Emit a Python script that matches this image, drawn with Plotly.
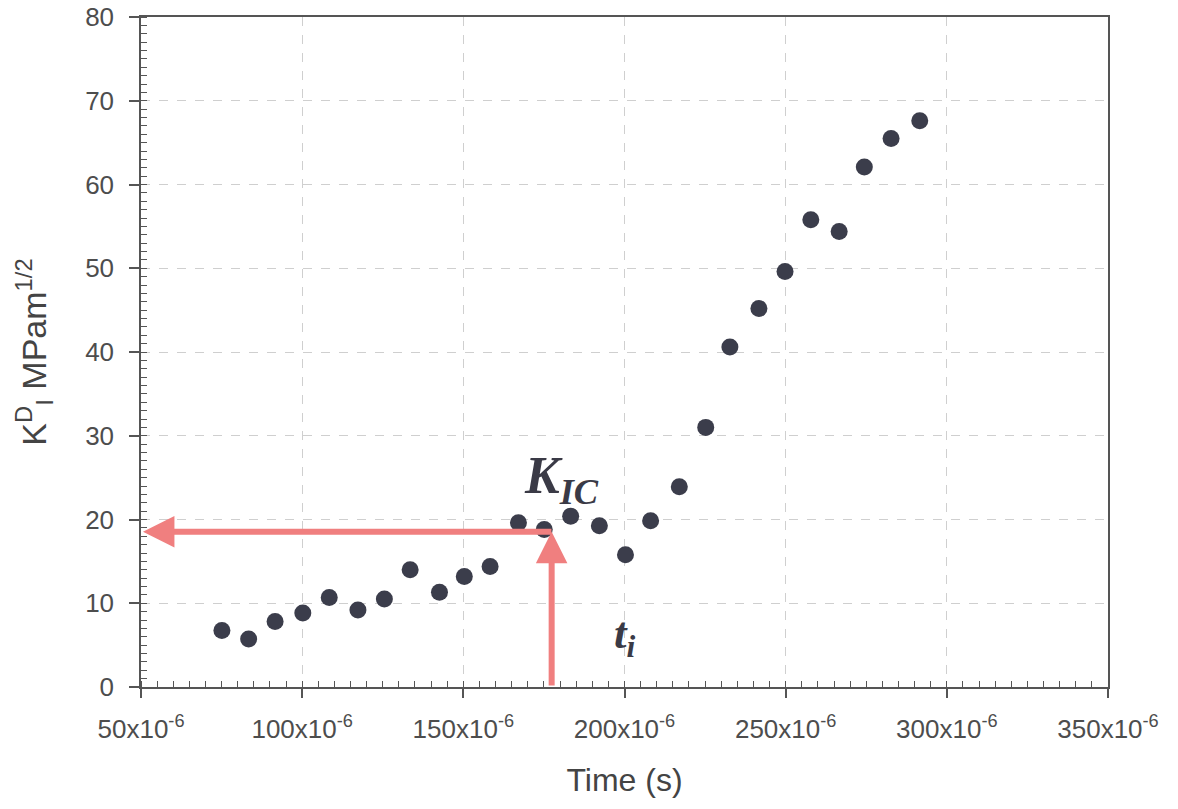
import plotly.graph_objects as go

# ---- data ----
time_us = [75.1, 83.4, 91.6, 100.2, 108.4, 117.3, 125.5, 133.5, 142.6, 150.3,
           158.3, 167.1, 175.1, 183.3, 192.2, 200.3, 208.1, 217.0, 225.2, 232.7,
           241.7, 249.8, 257.8, 266.6, 274.4, 282.7, 291.6]
k_values = [6.75, 5.73, 7.83, 8.83, 10.7, 9.2, 10.5, 14.0, 11.3, 13.2,
            14.4, 19.6, 18.8, 20.4, 19.25, 15.8, 19.85, 23.9, 31.0, 40.6,
            45.2, 49.6, 55.8, 54.4, 62.1, 65.5, 67.6]
time_s = [t * 1e-6 for t in time_us]

x_tick_vals_us = [50, 100, 150, 200, 250, 300, 350]
x_tick_vals = [v * 1e-6 for v in x_tick_vals_us]
x_tick_text = [f"{v}x10<sup>-6</sup>" for v in x_tick_vals_us]
y_tick_vals = [0, 10, 20, 30, 40, 50, 60, 70, 80]

KIC_VALUE = 18.55        # fracture toughness read at initiation
T_INIT = 177.4e-6        # initiation time t_i
X_MIN, X_MAX = 50e-6, 350e-6

axis_col = "#555555"
text_col = "#4d4d4d"
grid_col = "#cfcfcf"
arrow_col = "#f07f7f"
font_fam = "Liberation Sans, Arial, sans-serif"

fig = go.Figure()
fig.add_trace(go.Scatter(
    x=time_s, y=k_values, mode="markers",
    marker=dict(size=17, color="#3b3d4b"),
    showlegend=False,
))

# arrows
fig.add_annotation(x=X_MIN + 0.6e-6, y=KIC_VALUE, ax=T_INIT + 0.4e-6, ay=KIC_VALUE,
                   xref="x", yref="y", axref="x", ayref="y", text="",
                   showarrow=True, arrowhead=2, arrowwidth=6, arrowsize=1.05,
                   arrowcolor=arrow_col, standoff=0)
fig.add_annotation(x=T_INIT, y=KIC_VALUE, ax=T_INIT, ay=0,
                   xref="x", yref="y", axref="x", ayref="y", text="",
                   showarrow=True, arrowhead=2, arrowwidth=6, arrowsize=1.05,
                   arrowcolor=arrow_col, standoff=0)

fig.add_annotation(x=180.3e-6, y=24.8, xref="x", yref="y", showarrow=False,
                   text="<b><i>K<sub>IC</sub></i></b>",
                   font=dict(family="Liberation Serif, Times New Roman, serif",
                             size=52, color="#3a3a46"))
fig.add_annotation(x=200.0e-6, y=6.1, xref="x", yref="y", showarrow=False,
                   text="<b><i>t<sub>i</sub></i></b>",
                   font=dict(family="Liberation Serif, Times New Roman, serif",
                             size=45, color="#3a3a46"))

fig.update_layout(
    width=1178, height=809,
    margin=dict(l=141, r=70, t=17, b=122, autoexpand=False),
    paper_bgcolor="white", plot_bgcolor="white",
    font=dict(family=font_fam, color=text_col),
)
fig.update_xaxes(
    range=[X_MIN, X_MAX], automargin=False,
    tickvals=x_tick_vals, ticktext=x_tick_text,
    tickfont=dict(size=26, color=text_col),
    ticks="outside", ticklen=9, tickcolor=axis_col, tickwidth=1.5,
    ticklabelstandoff=9, ticklabeloverflow="allow",
    showline=True, linecolor=axis_col, linewidth=1.5, mirror=True,
    showgrid=True, gridcolor=grid_col, griddash="dash", gridwidth=1,
    zeroline=False,
    minor=dict(dtick=5e-6, tick0=0, ticks="inside", ticklen=6,
               tickcolor=axis_col, tickwidth=1, showgrid=False),
    title=dict(text="Time (s)", font=dict(size=32, color="#444444"), standoff=26),
)
fig.update_yaxes(
    range=[0, 80], automargin=False,
    tickvals=y_tick_vals,
    tickfont=dict(size=26, color=text_col),
    ticks="outside", ticklen=10, tickcolor=axis_col, tickwidth=1.5,
    ticklabelstandoff=10, ticklabeloverflow="allow",
    showline=True, linecolor=axis_col, linewidth=1.5, mirror=True,
    showgrid=True, gridcolor=grid_col, griddash="dash", gridwidth=1,
    zeroline=False,
    minor=dict(dtick=1, tick0=0, ticks="inside", ticklen=6,
               tickcolor=axis_col, tickwidth=1, showgrid=False),
    title=dict(text="K<sup>D</sup><sub>I</sub> MPam<sup>1/2</sup>",
               font=dict(size=34, color="#444444"), standoff=28),
)

# remove the default 8px page margin so the figure fills the window exactly
fig.write_html("out.html", config={"displayModeBar": False},
               post_script="document.body.style.margin='0px';")
